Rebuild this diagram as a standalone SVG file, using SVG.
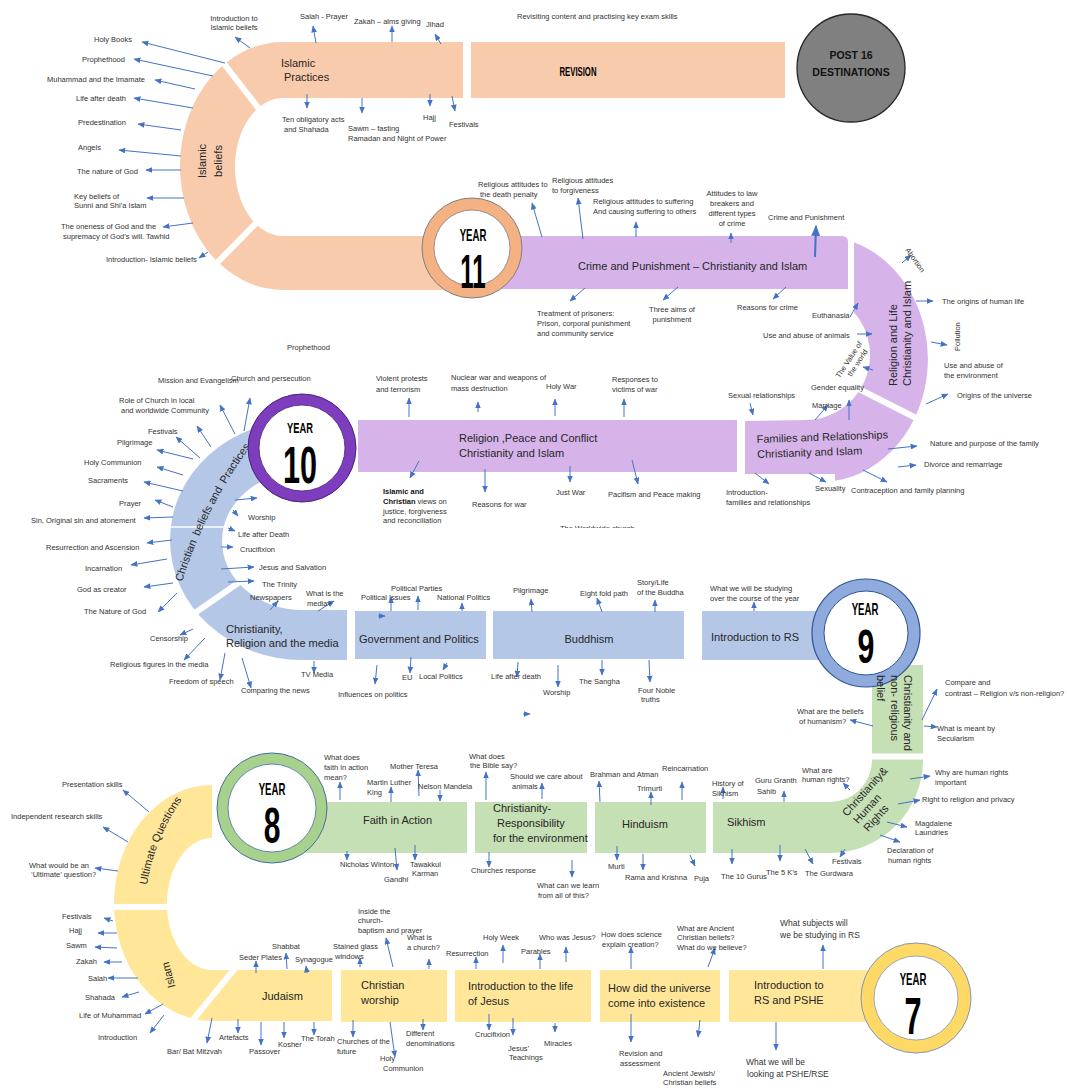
<svg xmlns="http://www.w3.org/2000/svg" width="1067" height="1090" viewBox="0 0 1067 1090">
<defs>
<style>
.s{font-family:"Liberation Sans",Arial,sans-serif;font-size:7.5px;fill:#333}
.m{font-family:"Liberation Sans",Arial,sans-serif;font-size:8.5px;fill:#333}
.t{font-family:"Liberation Sans",Arial,sans-serif;font-size:11px;fill:#262626}
.yr{font-family:"Liberation Sans",Arial,sans-serif;font-weight:bold;fill:#000;text-anchor:middle}
.c line{stroke:#4472C4;stroke-width:1;marker-end:url(#ah)}
.gap{stroke:#fff;stroke-width:6;fill:none}
.peach{fill:#F8CBAD}.purp{fill:#D6B4EA}.blue{fill:#B4C7E7}.green{fill:#C5E0B4}.yel{fill:#FFE699}
</style>
<marker id="ah" viewBox="0 0 12 10" refX="11" refY="5" markerWidth="7" markerHeight="5.8" markerUnits="userSpaceOnUse" orient="auto"><path d="M0,0 L12,5 L0,10 z" fill="#4472C4"/></marker>
<marker id="ahb" viewBox="0 0 12 10" refX="11" refY="5" markerWidth="11" markerHeight="9" markerUnits="userSpaceOnUse" orient="auto"><path d="M0,0 L12,5 L0,10 z" fill="#4472C4"/></marker>
<clipPath id="clipW"><rect x="540" y="515" width="120" height="13"/></clipPath>
<path id="cbp" d="M181 585 Q206 505 254 442" fill="none"/>
<path id="uqp" d="M146 892 Q153 838 186 794" fill="none"/>
</defs>
<rect width="1067" height="1090" fill="#fff"/>

<!-- Islamic ring -->
<g id="islamic">
<path class="peach" d="M463 42 L283 42 A103 124 0 0 0 283 290 L472 290 L472 236 L283 236 A48 69 0 0 1 283 98 L463 98 Z"/>
<line class="gap" x1="218" y1="56" x2="263" y2="114"/>
<line class="gap" x1="262" y1="217" x2="208" y2="272"/>
<text class="t"><tspan x="281" y="67">Islamic</tspan><tspan x="284" y="81">Practices</tspan></text>
<text class="t" font-size="12" text-anchor="middle" transform="translate(206,161) rotate(-90)"><tspan x="0" y="0">Islamic</tspan><tspan x="0" y="16">beliefs</tspan></text>
</g>

<g id="revision">
<rect class="peach" x="471" y="42" width="314" height="56"/>
<text class="yr" font-size="12.5" transform="translate(578,76) scale(0.62,1)" fill="#262626">REVISION</text>
</g>

<g id="post16">
<circle cx="851" cy="68" r="54" fill="#808080" stroke="#262626" stroke-width="1.3"/>
<text font-family="Liberation Sans,Arial,sans-serif" font-weight="bold" font-size="10.5" fill="#111" text-anchor="middle"><tspan x="851" y="59">POST 16</tspan><tspan x="851" y="76">DESTINATIONS</tspan></text>
</g>

<g id="crime">
<path class="purp" d="M472 236 L842 236 Q848 236 848 242 L848 289 L472 289 Z"/>
<text class="t" x="578" y="270">Crime and Punishment  – Christianity and Islam</text>
</g>

<g id="religion-life">
<path class="purp" d="M854 242.3 A108 123 0 0 1 835 480.8 L835 474 L745 474 L745 421 L805 420 A65 65 0 0 0 854 312.3 Z"/>
<line class="gap" x1="855" y1="387" x2="922" y2="421"/>
<text class="t" transform="translate(897,386) rotate(-90)"><tspan x="0" y="0">Religion and Life</tspan><tspan x="0" y="14">Christianity and Islam</tspan></text>
<text class="t" font-size="11.5" transform="rotate(-2 757 450)"><tspan x="757" y="443">Families and Relationships</tspan><tspan x="757" y="458">Christianity and Islam</tspan></text>
</g>

<g id="peace-conflict">
<rect class="purp" x="358" y="420" width="379" height="52"/>
<text class="t"><tspan x="459" y="442">Religion ,Peace and Conflict</tspan><tspan x="459" y="457">Christianity and Islam</tspan></text>
</g>

<g id="christian-beliefs">
<path class="blue" d="M302 420 A132 120 0 0 0 302 660 L347 660 L347 610 L302 610 A80 69 0 0 1 302 472 Z"/>
<line class="gap" x1="176" y1="626" x2="244" y2="579"/>
<line x1="168" y1="527" x2="224" y2="527" stroke="#fff" stroke-width="1.5"/>
<text class="t" font-size="11.5"><textPath href="#cbp" startOffset="3">Christian</textPath></text>
<text class="t" font-size="11.5"><textPath href="#cbp" startOffset="51.6">beliefs and</textPath></text>
<text class="t" font-size="11.5"><textPath href="#cbp" startOffset="110.4">Practices</textPath></text>
<text class="t"><tspan x="226" y="633">Christianity,</tspan><tspan x="226" y="647">Religion and the media</tspan></text>
</g>

<g id="government">
<rect class="blue" x="355" y="611" width="131" height="48"/>
<text class="t" x="359" y="643">Government  and Politics</text>
</g>
<g id="buddhism">
<rect class="blue" x="493" y="611" width="191" height="48"/>
<text class="t" x="589" y="643" text-anchor="middle">Buddhism</text>
</g>
<g id="intro-rs">
<rect class="blue" x="702" y="611" width="168" height="49"/>
<text class="t" x="711" y="641">Introduction to RS</text>
</g>

<g id="non-religious">
<path class="green" d="M872 665 L923 665 L923 760 A93 93 0 0 1 830 853 L713 853 L713 802 L830 802 A42 42 0 0 0 872 760 Z"/>
<line class="gap" x1="866" y1="756.5" x2="928" y2="756.5"/>
<text class="t" transform="translate(847,817) rotate(-48)"><tspan x="0" y="0">Christianity&amp;</tspan><tspan x="2" y="13">Human</tspan><tspan x="3" y="26">Rights</tspan></text>
<text class="t" x="727" y="826">Sikhism</text>
</g>

<g id="faith-action">
<rect class="green" x="300" y="802" width="167" height="51"/>
<text class="t" x="363" y="824">Faith in Action</text>
</g>
<g id="responsibility">
<rect class="green" x="475" y="802" width="112" height="51"/>
<text class="t"><tspan x="493" y="812">Christianity-</tspan><tspan x="497" y="827">Responsibility</tspan><tspan x="493" y="842">for the environment</tspan></text>
</g>
<g id="hinduism">
<rect class="green" x="595" y="802" width="111" height="51"/>
<text class="t" x="622" y="828">Hinduism</text>
</g>

<g id="ultimate-islam">
<path class="yel" d="M212 785 A98 118 0 0 0 212 1021 L332 1021 L332 970 L212 970 A45 66 0 0 1 212 838 Z"/>
<line class="gap" x1="108" y1="907" x2="174" y2="907"/>
<line class="gap" x1="188" y1="1026" x2="240" y2="962"/>
<text class="t" font-size="11.5"><textPath href="#uqp" startOffset="50%" text-anchor="middle">Ultimate Questions</textPath></text>
<text class="t" text-anchor="middle" transform="translate(172,974) rotate(-105)">Islam</text>
<text class="t" x="262" y="1000">Judaism</text>
</g>

<g id="christian-worship">
<rect class="yel" x="341" y="970" width="106" height="52"/>
<text class="t"><tspan x="361" y="989">Christian</tspan><tspan x="361" y="1004">worship</tspan></text>
</g>
<g id="life-of-jesus">
<rect class="yel" x="455" y="970" width="136" height="52"/>
<text class="t"><tspan x="468" y="990">Introduction  to the life</tspan><tspan x="468" y="1005">of Jesus</tspan></text>
</g>
<g id="universe">
<rect class="yel" x="600" y="970" width="120" height="52"/>
<text class="t"><tspan x="608" y="992">How did the universe</tspan><tspan x="608" y="1007">come into existence</tspan></text>
</g>
<g id="intro-pshe">
<rect class="yel" x="729" y="970" width="141" height="52"/>
<text class="t"><tspan x="754" y="989">Introduction  to</tspan><tspan x="754" y="1004">RS and PSHE</tspan></text>
</g>

<!-- Year circles -->
<g id="year11">
<circle cx="472" cy="248" r="50" fill="#F4B183" stroke="#7F7F7F"/>
<circle cx="472" cy="248" r="38" fill="#fff" stroke="#7F7F7F" stroke-width="0.8"/>
<text class="yr" font-size="16" transform="translate(473,240.5) scale(0.6,1)">YEAR</text>
<text class="yr" font-size="48" transform="translate(473,288) scale(0.5,1)">11</text>
</g>
<g id="year10">
<circle cx="302" cy="448" r="54" fill="#7D3DBD" stroke="#4B2378"/>
<circle cx="302" cy="448" r="43" fill="#fff" stroke="#4B2378" stroke-width="0.8"/>
<text class="yr" font-size="15.5" transform="translate(300,433) scale(0.6,1)">YEAR</text>
<text class="yr" font-size="51" transform="translate(300,483) scale(0.6,1)">10</text>
</g>
<g id="year9">
<circle cx="866" cy="633" r="54" fill="#8FAADC" stroke="#2F5597" stroke-width="1.2"/>
<circle cx="866" cy="633" r="42" fill="#fff" stroke="#2F5597" stroke-width="1"/>
<text class="yr" font-size="16" transform="translate(865,615) scale(0.6,1)">YEAR</text>
<text class="yr" font-size="49" transform="translate(866,663) scale(0.62,1)">9</text>
</g>
<g id="year8">
<circle cx="272" cy="808" r="55" fill="#A9D18E" stroke="#41719C"/>
<circle cx="272" cy="808" r="44" fill="#fff" stroke="#41719C" stroke-width="0.8"/>
<text class="yr" font-size="16" transform="translate(272,794.5) scale(0.6,1)">YEAR</text>
<text class="yr" font-size="50" transform="translate(272,843) scale(0.6,1)">8</text>
</g>
<g id="year7">
<circle cx="916" cy="998" r="55" fill="#FFD966" stroke="#8497B0"/>
<circle cx="916" cy="998" r="42" fill="#fff" stroke="#8497B0" stroke-width="0.8"/>
<text class="yr" font-size="16" transform="translate(913,984.5) scale(0.6,1)">YEAR</text>
<text class="yr" font-size="51" transform="translate(913,1034) scale(0.6,1)">7</text>
</g>

<!-- text of the non-religious piece lies over the Year 9 ring -->
<g id="non-religious-label">
<text class="t" transform="translate(904,675) rotate(90)"><tspan x="0" y="0">Christianity and</tspan><tspan x="0" y="13.5">non- religious</tspan><tspan x="0" y="27">belief</tspan></text>
</g>

<!-- connectors -->
<g id="connectors" class="c">
<line x1="250" y1="48" x2="235" y2="37"/>
<line x1="225" y1="63" x2="142" y2="42"/>
<line x1="213" y1="76" x2="134" y2="59"/>
<line x1="195" y1="89" x2="155" y2="80"/>
<line x1="193" y1="108" x2="134" y2="98"/>
<line x1="181" y1="130" x2="138" y2="124"/>
<line x1="181" y1="156" x2="119" y2="150"/>
<line x1="181" y1="170" x2="146" y2="170"/>
<line x1="184" y1="198" x2="147" y2="198"/>
<line x1="193" y1="223" x2="163" y2="227"/>
<line x1="208" y1="252" x2="199" y2="258"/>
<line x1="307" y1="94" x2="307" y2="108"/>
<line x1="316" y1="43" x2="313" y2="26"/>
<line x1="392" y1="42" x2="392" y2="26"/>
<line x1="441" y1="44" x2="435" y2="34"/>
<line x1="362" y1="98" x2="362" y2="113"/>
<line x1="430" y1="94" x2="430" y2="106"/>
<line x1="452" y1="96" x2="455" y2="111"/>
<line x1="542" y1="237" x2="532" y2="203"/>
<line x1="583" y1="239" x2="578" y2="198"/>
<line x1="636" y1="237" x2="636" y2="222"/>
<line x1="731" y1="243" x2="731" y2="233"/>
<line x1="815" y1="257" x2="816" y2="226" style="stroke-width:2;marker-end:url(#ahb)"/>
<line x1="585" y1="288" x2="570" y2="301"/>
<line x1="678" y1="287" x2="663" y2="300"/>
<line x1="786" y1="287" x2="773" y2="299"/>
<line x1="902" y1="263" x2="911" y2="255"/>
<line x1="916" y1="301" x2="933" y2="301"/>
<line x1="931" y1="342" x2="947" y2="345"/>
<line x1="926" y1="404" x2="948" y2="394"/>
<line x1="850" y1="317" x2="858" y2="303"/>
<line x1="857" y1="334" x2="872" y2="334"/>
<line x1="873" y1="370" x2="863" y2="367"/>
<line x1="849" y1="420" x2="849" y2="400"/>
<line x1="815" y1="420" x2="828" y2="405"/>
<line x1="750" y1="403" x2="753" y2="415"/>
<line x1="888" y1="449" x2="917" y2="446"/>
<line x1="898" y1="467" x2="916" y2="465"/>
<line x1="863" y1="470" x2="887" y2="482"/>
<line x1="809" y1="473" x2="826" y2="482"/>
<line x1="755" y1="473" x2="769" y2="484"/>
<line x1="409" y1="417" x2="409" y2="398"/>
<line x1="478" y1="412" x2="478" y2="402"/>
<line x1="555" y1="416" x2="555" y2="399"/>
<line x1="624" y1="417" x2="624" y2="399"/>
<line x1="419" y1="461" x2="410" y2="478"/>
<line x1="485" y1="469" x2="485" y2="492"/>
<line x1="570" y1="466" x2="570" y2="482"/>
<line x1="632" y1="460" x2="638" y2="484"/>
<line x1="244" y1="431" x2="250" y2="398"/>
<line x1="235" y1="434" x2="220" y2="405"/>
<line x1="211" y1="447" x2="197" y2="426"/>
<line x1="200" y1="458" x2="176" y2="437"/>
<line x1="193" y1="459" x2="157" y2="450"/>
<line x1="183" y1="475" x2="157" y2="467"/>
<line x1="183" y1="491" x2="144" y2="482"/>
<line x1="173" y1="507" x2="155" y2="500"/>
<line x1="173" y1="517" x2="144" y2="518"/>
<line x1="172" y1="540" x2="147" y2="543"/>
<line x1="167" y1="559" x2="131" y2="565"/>
<line x1="173" y1="583" x2="144" y2="587"/>
<line x1="177" y1="593" x2="158" y2="612"/>
<line x1="235" y1="500" x2="257" y2="498"/>
<line x1="233" y1="510" x2="238" y2="516"/>
<line x1="228" y1="528" x2="235" y2="531"/>
<line x1="221" y1="547" x2="233" y2="547"/>
<line x1="221" y1="569" x2="254" y2="567"/>
<line x1="228" y1="582" x2="254" y2="581"/>
<line x1="270" y1="610" x2="278" y2="601"/>
<line x1="318" y1="611" x2="334" y2="601"/>
<line x1="193" y1="629" x2="180" y2="635"/>
<line x1="205" y1="638" x2="184" y2="660"/>
<line x1="225" y1="653" x2="220" y2="680"/>
<line x1="242" y1="658" x2="251" y2="688"/>
<line x1="314" y1="661" x2="314" y2="673"/>
<line x1="391" y1="611" x2="391" y2="597"/>
<line x1="418" y1="610" x2="418" y2="596"/>
<line x1="462" y1="611" x2="462" y2="603"/>
<line x1="378" y1="616" x2="385" y2="616"/>
<line x1="411" y1="657" x2="410" y2="673"/>
<line x1="447" y1="663" x2="443" y2="670"/>
<line x1="377" y1="665" x2="375" y2="684"/>
<line x1="532" y1="612" x2="531" y2="599"/>
<line x1="602" y1="612" x2="597" y2="598"/>
<line x1="655" y1="612" x2="655" y2="600"/>
<line x1="518" y1="662" x2="517" y2="677"/>
<line x1="558" y1="665" x2="558" y2="687"/>
<line x1="602" y1="660" x2="602" y2="675"/>
<line x1="649" y1="660" x2="650" y2="682"/>
<line x1="523" y1="714" x2="530" y2="714"/>
<line x1="754" y1="611" x2="754" y2="602"/>
<line x1="922" y1="720" x2="937" y2="689"/>
<line x1="924" y1="726" x2="937" y2="727"/>
<line x1="873" y1="726" x2="850" y2="720"/>
<line x1="850" y1="790" x2="843" y2="783"/>
<line x1="910" y1="779" x2="930" y2="776"/>
<line x1="898" y1="804" x2="920" y2="800"/>
<line x1="887" y1="822" x2="907" y2="827"/>
<line x1="880" y1="835" x2="900" y2="842"/>
<line x1="845" y1="849" x2="840" y2="857"/>
<line x1="784" y1="802" x2="784" y2="791"/>
<line x1="723" y1="799" x2="723" y2="787"/>
<line x1="732" y1="849" x2="732" y2="864"/>
<line x1="780" y1="845" x2="780" y2="861"/>
<line x1="805" y1="849" x2="813" y2="864"/>
<line x1="340" y1="800" x2="340" y2="782"/>
<line x1="419" y1="796" x2="418" y2="770"/>
<line x1="391" y1="802" x2="391" y2="787"/>
<line x1="440" y1="790" x2="440" y2="801"/>
<line x1="486" y1="800" x2="486" y2="772"/>
<line x1="542" y1="799" x2="542" y2="783"/>
<line x1="600" y1="802" x2="599" y2="781"/>
<line x1="682" y1="800" x2="682" y2="782"/>
<line x1="651" y1="805" x2="651" y2="792"/>
<line x1="347" y1="851" x2="347" y2="860"/>
<line x1="395" y1="848" x2="397" y2="870"/>
<line x1="415" y1="845" x2="415" y2="860"/>
<line x1="489" y1="852" x2="489" y2="867"/>
<line x1="572" y1="860" x2="572" y2="877"/>
<line x1="617" y1="846" x2="617" y2="860"/>
<line x1="643" y1="854" x2="643" y2="870"/>
<line x1="690" y1="855" x2="695" y2="866"/>
<line x1="149" y1="812" x2="123" y2="790"/>
<line x1="128" y1="842" x2="103" y2="827"/>
<line x1="118" y1="871" x2="95" y2="868"/>
<line x1="113" y1="921" x2="104" y2="918"/>
<line x1="117" y1="933" x2="98" y2="933"/>
<line x1="117" y1="948" x2="95" y2="947"/>
<line x1="122" y1="962" x2="104" y2="962"/>
<line x1="138" y1="978" x2="108" y2="978"/>
<line x1="139" y1="992" x2="122" y2="997"/>
<line x1="163" y1="1004" x2="145" y2="1014"/>
<line x1="164" y1="1015" x2="150" y2="1033"/>
<line x1="256" y1="973" x2="256" y2="961"/>
<line x1="287" y1="969" x2="286" y2="953"/>
<line x1="307" y1="973" x2="306" y2="966"/>
<line x1="212" y1="1018" x2="207" y2="1043"/>
<line x1="238" y1="1019" x2="238" y2="1033"/>
<line x1="261" y1="1022" x2="261" y2="1045"/>
<line x1="284" y1="1022" x2="284" y2="1038"/>
<line x1="314" y1="1022" x2="314" y2="1035"/>
<line x1="360" y1="967" x2="360" y2="958"/>
<line x1="393" y1="967" x2="386" y2="938"/>
<line x1="429" y1="969" x2="429" y2="959"/>
<line x1="353" y1="1020" x2="353" y2="1037"/>
<line x1="423" y1="1019" x2="423" y2="1030"/>
<line x1="390" y1="1022" x2="395" y2="1057"/>
<line x1="476" y1="969" x2="476" y2="957"/>
<line x1="503" y1="963" x2="503" y2="945"/>
<line x1="540" y1="969" x2="540" y2="954"/>
<line x1="566" y1="962" x2="566" y2="947"/>
<line x1="489" y1="1014" x2="489" y2="1030"/>
<line x1="513" y1="1018" x2="513" y2="1035"/>
<line x1="555" y1="1023" x2="555" y2="1032"/>
<line x1="631" y1="969" x2="631" y2="947"/>
<line x1="708" y1="967" x2="715" y2="948"/>
<line x1="631" y1="1014" x2="631" y2="1042"/>
<line x1="700" y1="1020" x2="698" y2="1037"/>
<line x1="823" y1="969" x2="823" y2="945"/>
<line x1="776" y1="1022" x2="776" y2="1050"/>
</g>

<!-- labels -->
<g id="labels">
<text class="s" text-anchor="middle"><tspan x="234" y="21">Introduction to</tspan><tspan x="234" y="30">Islamic beliefs</tspan></text>
<text class="s" x="94" y="42">Holy Books</text>
<text class="s" x="82" y="62">Prophethood</text>
<text class="s" x="47" y="82">Muhammad and the Imamate</text>
<text class="s" x="76" y="101">Life after death</text>
<text class="s" x="78" y="125">Predestination</text>
<text class="s" x="78" y="150">Angels</text>
<text class="s" x="77" y="174">The nature of God</text>
<text class="s"><tspan x="74" y="199">Key beliefs of</tspan><tspan x="74" y="208">Sunni and Shi’a Islam</tspan></text>
<text class="s"><tspan x="61" y="229">The oneness of God and the</tspan><tspan x="63" y="239">supremacy of God’s will. Tawhid</tspan></text>
<text class="s" x="106" y="262">Introduction- Islamic beliefs</text>
<text class="s"><tspan x="282" y="122">Ten obligatory acts</tspan><tspan x="284" y="132">and Shahada</tspan></text>
<text class="s" x="300" y="19">Salah - Prayer</text>
<text class="s" x="354" y="24">Zakah – alms giving</text>
<text class="s" x="426" y="27">Jihad</text>
<text class="s" x="517" y="19">Revisiting content and practising key exam skills</text>
<text class="s"><tspan x="348" y="131">Sawm – fasting</tspan><tspan x="348" y="141">Ramadan and Night of Power</tspan></text>
<text class="s" x="423" y="120">Hajj</text>
<text class="s" x="449" y="127">Festivals</text>

<text class="s"><tspan x="478" y="187">Religious attitudes to</tspan><tspan x="480" y="197">the death penalty</tspan></text>
<text class="s"><tspan x="552" y="183">Religious attitudes</tspan><tspan x="552" y="193">to forgiveness</tspan></text>
<text class="s"><tspan x="593" y="204">Religious attitudes to suffering</tspan><tspan x="593" y="214">And causing suffering to others</tspan></text>
<text class="s" text-anchor="middle"><tspan x="732" y="196">Attitudes to law</tspan><tspan x="732" y="206">breakers and</tspan><tspan x="732" y="216">different types</tspan><tspan x="732" y="226">of crime</tspan></text>
<text class="s" x="768" y="220">Crime and Punishment</text>
<text class="s"><tspan x="537" y="316">Treatment of prisoners:</tspan><tspan x="537" y="326">Prison, corporal punishment</tspan><tspan x="537" y="336">and community service</tspan></text>
<text class="s" text-anchor="middle"><tspan x="672" y="312">Three aims of</tspan><tspan x="672" y="322">punishment</tspan></text>
<text class="s" x="737" y="310">Reasons for crime</text>

<text class="s" transform="translate(905,250) rotate(55)">Abortion</text>
<text class="s" x="942" y="304">The origins of human life</text>
<text class="s" transform="translate(960,351) rotate(-90)">Pollution</text>
<text class="s"><tspan x="944" y="368">Use and abuse of</tspan><tspan x="944" y="378">the environment</tspan></text>
<text class="s" x="957" y="398">Origins of the universe</text>
<text class="s" x="812" y="318">Euthanasia</text>
<text class="s" x="763" y="338">Use and abuse of animals</text>
<text class="s" text-anchor="middle" transform="translate(851,361) rotate(-57)"><tspan x="0" y="0">The Value of</tspan><tspan x="2" y="9">the world</tspan></text>
<text class="s" x="811" y="390">Gender equality</text>
<text class="s" x="812" y="408">Marriage</text>
<text class="s" x="728" y="398">Sexual relationships</text>
<text class="s" x="930" y="446">Nature and purpose of the family</text>
<text class="s" x="924" y="467">Divorce and remarriage</text>
<text class="s" x="851" y="493">Contraception and family planning</text>
<text class="s" x="815" y="491">Sexuality</text>
<text class="s"><tspan x="726" y="495">Introduction-</tspan><tspan x="726" y="505">families and relationships</tspan></text>

<text class="s"><tspan x="376" y="381">Violent protests</tspan><tspan x="376" y="392">and terrorism</tspan></text>
<text class="s"><tspan x="451" y="380">Nuclear war and weapons of</tspan><tspan x="451" y="391">mass destruction</tspan></text>
<text class="s" x="546" y="389">Holy War</text>
<text class="s"><tspan x="612" y="382">Responses to</tspan><tspan x="612" y="392">victims of war</tspan></text>
<text class="s"><tspan x="383" y="494" font-weight="bold" fill="#111">Islamic and</tspan><tspan x="383" y="504" font-weight="bold" fill="#111">Christian</tspan><tspan> views on</tspan><tspan x="383" y="514">justice, forgiveness</tspan><tspan x="383" y="523">and reconciliation</tspan></text>
<text class="s" x="472" y="507">Reasons for war</text>
<text class="s" x="556" y="495">Just War</text>
<text class="s" x="608" y="497">Pacifism and Peace making</text>
<text class="s" x="560" y="531" clip-path="url(#clipW)">The Worldwide church</text>

<text class="s" x="287" y="350">Prophethood</text>
<text class="s" x="158" y="383">Mission and Evangelism</text>
<text class="s" x="231" y="381">Church and persecution</text>
<text class="s"><tspan x="119" y="403">Role of Church in local</tspan><tspan x="121" y="413">and worldwide Community</tspan></text>
<text class="s" x="148" y="434">Festivals</text>
<text class="s" x="117" y="445">Pilgrimage</text>
<text class="s" x="84" y="465">Holy Communion</text>
<text class="s" x="88" y="483">Sacraments</text>
<text class="s" x="119" y="506">Prayer</text>
<text class="s" x="31" y="523">Sin, Original sin and atonement</text>
<text class="s" x="46" y="550">Resurrection and Ascension</text>
<text class="s" x="85" y="571">Incarnation</text>
<text class="s" x="77" y="592">God as creator</text>
<text class="s" x="84" y="614">The Nature of God</text>
<text class="s" x="248" y="520">Worship</text>
<text class="s" x="238" y="537">Life after Death</text>
<text class="s" x="240" y="552">Crucifixion</text>
<text class="s" x="259" y="570">Jesus and Salvation</text>
<text class="s" x="262" y="587">The Trinity</text>

<text class="s" x="250" y="600">Newspapers</text>
<text class="s"><tspan x="306" y="596">What is the</tspan><tspan x="307" y="606">media?</tspan></text>
<text class="s" x="150" y="641">Censorship</text>
<text class="s" x="110" y="667">Religious figures in the media</text>
<text class="s" x="169" y="684">Freedom of speech</text>
<text class="s" x="241" y="693">Comparing the news</text>
<text class="s" x="301" y="677">TV Media</text>
<text class="s" x="391" y="591">Political Parties</text>
<text class="s" x="361" y="600">Political Issues</text>
<text class="s" x="437" y="600">National Politics</text>
<text class="s" x="402" y="680">EU</text>
<text class="s" x="419" y="679">Local Politics</text>
<text class="s" x="338" y="697">Influences on politics</text>
<text class="s" x="513" y="593">Pilgrimage</text>
<text class="s" x="580" y="596">Eight fold path</text>
<text class="s"><tspan x="637" y="585">Story/Life</tspan><tspan x="637" y="595">of the Buddha</tspan></text>
<text class="s" x="491" y="679">Life after death</text>
<text class="s" x="543" y="695">Worship</text>
<text class="s" x="579" y="684">The Sangha</text>
<text class="s"><tspan x="638" y="693">Four Noble</tspan><tspan x="641" y="702">truths</tspan></text>
<text class="s"><tspan x="710" y="591">What we will be studying</tspan><tspan x="710" y="601">over the course of the year</tspan></text>

<text class="s"><tspan x="945" y="685">Compare and</tspan><tspan x="945" y="696">contrast – Religion v/s non-religion?</tspan></text>
<text class="s"><tspan x="937" y="731">What is meant by</tspan><tspan x="937" y="741">Secularism</tspan></text>
<text class="s"><tspan x="797" y="714">What are the beliefs</tspan><tspan x="799" y="724">of humanism?</tspan></text>
<text class="s"><tspan x="802" y="773">What are</tspan><tspan x="802" y="782">human rights?</tspan></text>
<text class="s"><tspan x="755" y="783">Guru Granth</tspan><tspan x="757" y="794">Sahib</tspan></text>
<text class="s"><tspan x="712" y="786">History of</tspan><tspan x="712" y="796">Sikhism</tspan></text>
<text class="s"><tspan x="935" y="775">Why are human rights</tspan><tspan x="935" y="785">important</tspan></text>
<text class="s" x="922" y="802">Right to religion and privacy</text>
<text class="s"><tspan x="915" y="826">Magdalene</tspan><tspan x="915" y="835">Laundries</tspan></text>
<text class="s"><tspan x="887" y="853">Declaration of</tspan><tspan x="888" y="863">human rights</tspan></text>
<text class="s" x="832" y="864">Festivals</text>
<text class="s" x="721" y="879">The 10 Gurus</text>
<text class="s" x="766" y="875">The 5 K’s</text>
<text class="s" x="805" y="876">The Gurdwara</text>

<text class="s"><tspan x="324" y="760">What does</tspan><tspan x="324" y="770">faith in action</tspan><tspan x="324" y="780">mean?</tspan></text>
<text class="s" x="390" y="769">Mother Teresa</text>
<text class="s"><tspan x="367" y="785">Martin Luther</tspan><tspan x="367" y="795">King</tspan></text>
<text class="s" x="418" y="789">Nelson Mandela</text>
<text class="s"><tspan x="469" y="759">What does</tspan><tspan x="470" y="768">the Bible say?</tspan></text>
<text class="s"><tspan x="510" y="779">Should we care about</tspan><tspan x="512" y="789">animals</tspan></text>
<text class="s" x="590" y="777">Brahman and Atman</text>
<text class="s" x="662" y="771">Reincarnation</text>
<text class="s" x="637" y="791">Trimurti</text>
<text class="s" x="340" y="867">Nicholas Winton</text>
<text class="s" x="384" y="882">Gandhi</text>
<text class="s"><tspan x="410" y="867">Tawakkul</tspan><tspan x="412" y="876">Karman</tspan></text>
<text class="s" x="471" y="873">Churches response</text>
<text class="s"><tspan x="537" y="888">What can we learn</tspan><tspan x="538" y="898">from all of this?</tspan></text>
<text class="s" x="608" y="869">Murti</text>
<text class="s" x="625" y="880">Rama and Krishna</text>
<text class="s" x="694" y="881">Puja</text>

<text class="s" x="62" y="787">Presentation skills</text>
<text class="s" x="11" y="819">Independent research skills</text>
<text class="s"><tspan x="29" y="868">What would be an</tspan><tspan x="31" y="877">‘Ultimate’ question?</tspan></text>
<text class="s" x="62" y="919">Festivals</text>
<text class="s" x="69" y="933">Hajj</text>
<text class="s" x="66" y="948">Sawm</text>
<text class="s" x="76" y="964">Zakah</text>
<text class="s" x="88" y="981">Salah</text>
<text class="s" x="85" y="1000">Shahada</text>
<text class="s" x="79" y="1018">Life of Muhammad</text>
<text class="s" x="98" y="1040">Introduction</text>
<text class="s" x="239" y="960">Seder Plates</text>
<text class="s" x="272" y="949">Shabbat</text>
<text class="s" x="295" y="962">Synagogue</text>
<text class="s" x="167" y="1054">Bar/ Bat Mitzvah</text>
<text class="s" x="219" y="1040">Artefacts</text>
<text class="s" x="249" y="1054">Passover</text>
<text class="s" x="278" y="1047">Kosher</text>
<text class="s" x="301" y="1041">The Torah</text>
<text class="s"><tspan x="333" y="949">Stained glass</tspan><tspan x="335" y="959">windows</tspan></text>
<text class="s"><tspan x="358" y="914">Inside the</tspan><tspan x="358" y="923">church-</tspan><tspan x="358" y="933">baptism and prayer</tspan></text>
<text class="s"><tspan x="407" y="940">What is</tspan><tspan x="407" y="950">a church?</tspan></text>
<text class="s"><tspan x="337" y="1044">Churches of the</tspan><tspan x="337" y="1054">future</tspan></text>
<text class="s"><tspan x="406" y="1036">Different</tspan><tspan x="406" y="1046">denominations</tspan></text>
<text class="s"><tspan x="380" y="1061">Holy</tspan><tspan x="383" y="1071">Communion</tspan></text>
<text class="s" x="446" y="956">Resurrection</text>
<text class="s" x="483" y="940">Holy Week</text>
<text class="s" x="521" y="954">Parables</text>
<text class="s" x="539" y="940">Who was Jesus?</text>
<text class="s" x="475" y="1037">Crucifixion</text>
<text class="s"><tspan x="508" y="1051">Jesus’</tspan><tspan x="509" y="1060">Teachings</tspan></text>
<text class="s" x="544" y="1046">Miracles</text>
<text class="s"><tspan x="601" y="937">How does science</tspan><tspan x="602" y="947">explain creation?</tspan></text>
<text class="s"><tspan x="677" y="931">What are Ancient</tspan><tspan x="677" y="940">Christian beliefs?</tspan><tspan x="677" y="950">What do we believe?</tspan></text>
<text class="s"><tspan x="619" y="1056">Revision and</tspan><tspan x="620" y="1066">assessment</tspan></text>
<text class="s"><tspan x="663" y="1076">Ancient Jewish/</tspan><tspan x="663" y="1085">Christian beliefs</tspan></text>
<text class="m"><tspan x="780" y="926">What subjects will</tspan><tspan x="780" y="938">we be studying in RS</tspan></text>
<text class="m"><tspan x="746" y="1065">What we will be</tspan><tspan x="747" y="1077">looking at PSHE/RSE</tspan></text>
</g>
</svg>
